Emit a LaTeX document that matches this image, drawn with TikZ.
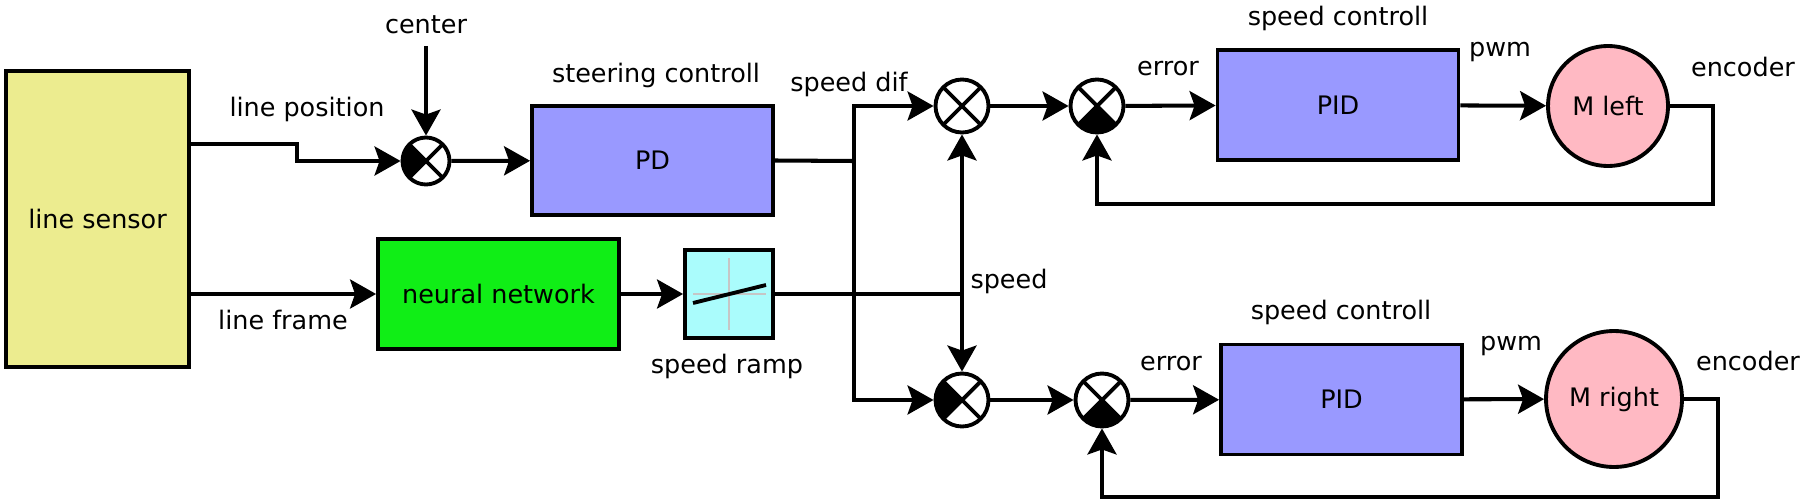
\documentclass[tikz,border=0pt]{standalone}
\usepackage{fontspec}
\setmainfont{DejaVu Sans}
\usepackage{xcolor}
\definecolor{sensorfill}{RGB}{236,236,143}
\definecolor{netfill}{RGB}{16,238,22}
\definecolor{ctrlfill}{RGB}{153,153,255}
\definecolor{rampfill}{RGB}{170,252,252}
\definecolor{motorfill}{RGB}{255,185,195}
\usepackage{tikz}
\usetikzlibrary{positioning,arrows.meta,calc}

\newcommand{\lblfont}{\fontsize{14.5}{17}\selectfont}
\newcommand{\sumcross}{%
  \draw[black,line width=2.2pt] (path picture bounding box.north west) -- (path picture bounding box.south east)
    (path picture bounding box.north east) -- (path picture bounding box.south west);}

\begin{document}
\begin{tikzpicture}[x=0.02cm,y=-0.02cm,
      block/.style={draw,line width=2.2pt,minimum width=4.82cm,minimum height=2.2cm,inner sep=0pt,font=\lblfont},
      motor/.style={circle,draw,line width=2.2pt,fill=motorfill,inner sep=0pt,font=\lblfont},
      sumj/.style={circle,draw,line width=2.2pt,fill=white,minimum size=1.06cm,inner sep=0pt,path picture={\sumcross}},
      sumw/.style={sumj,path picture={\fill[black] (path picture bounding box.center) -- (path picture bounding box.north west)
          -- (path picture bounding box.south west) -- cycle; \sumcross}},
      sums/.style={sumj,path picture={\fill[black] (path picture bounding box.center) -- (path picture bounding box.south west)
          -- (path picture bounding box.south east) -- cycle; \sumcross}},
      lbl/.style={inner sep=0pt,font=\lblfont},
      wire/.style={line width=2.3pt},
      arr/.style={-{Stealth[length=0.52cm,width=0.58cm,inset=0.1cm]},line width=2.3pt}]
    \useasboundingbox (0,0) rectangle (1804,500);
    % sensor and steering part
    \node[block,fill=sensorfill,minimum width=3.66cm,minimum height=5.92cm] (sensor) at (97.5,219) {line sensor};
    \node[block,fill=netfill] (net) at (498.5,294) {neural network};
    \node[sumw,minimum size=0.94cm] (s1) at (426,161) {};
    \node[block,fill=ctrlfill,minimum height=2.18cm] (pd) at (652.5,160.5) {PD};
    \node[block,fill=rampfill,minimum width=1.76cm,minimum height=1.76cm] (ramp) at (729,294) {};
    % ramp icon
    \draw[gray!45,line width=1pt] (693,294) -- (766,294) (729,258) -- (729,330);
    \draw[line width=2.2pt] (693,303) -- (766,285);
    % summing points
    \node[sumj] (s2) at (962,106) {};
    \node[sumw] (s3) at (962,400) {};
    \node[sums] (s4) at (1097,106) {};
    \node[sums] (s5) at (1102,400) {};
    % speed loops
    \node[block,fill=ctrlfill] (pidL) at (1338,105) {PID};
    \node[block,fill=ctrlfill] (pidR) at (1341.5,399.5) {PID};
    \node[motor,minimum size=2.4cm] (mL) at (1608,106) {M left};
    \node[motor,minimum size=2.72cm] (mR) at (1614,399) {M right};
    % bend points
    \coordinate (lp) at (297,144);
    \coordinate (ctop) at (426,46);
    \coordinate (sd) at (854,161);
    \coordinate (fbL) at (1713,204);
    \coordinate (fbR) at (1718,497);
    % connections
    \draw[arr] (sensor.east |- lp) -- (lp) |- (s1.west);
    \draw[arr] (sensor.east |- net.west) -- (net.west);
    \draw[arr] (ctop) -- (s1.north);
    \draw[arr] (s1) -- (pd);
    \draw[arr] (net) -- (ramp);
    \draw[wire] (pd.east) -- (sd);
    \draw[arr] (sd) |- (s2.west);
    \draw[arr] (sd) |- (s3.west);
    \draw[wire] (ramp.east) -- (s2 |- ramp.east);
    \draw[arr] (s2 |- ramp.east) -- (s2.south);
    \draw[arr] (s2 |- ramp.east) -- (s3.north);
    \foreach \a/\b in {s2/s4,s3/s5,s4/pidL,s5/pidR,pidL/mL,pidR/mR} \draw[arr] (\a) -- (\b);
    \draw[arr] (mL.east) -| (fbL) -| (s4.south);
    \draw[arr] (mR.east) -| (fbR) -| (s5.south);
    % labels
    \node[lbl] (tPos) at (307,109) {line position};
    \node[lbl] (tFrame) at (283,320) {line frame};
    \node[lbl] (tCenter) at (426,25) {center};
    \node[lbl] (tSteer) at (656,75) {steering controll};
    \node[lbl] (tRamp) at (727,366) {speed ramp};
    \node[lbl] (tDif) at (849,84) {speed dif};
    \node[lbl] (tSpeed) at (1009,281) {speed};
    \node[lbl] (tErrL) at (1168,69) {error};
    \node[lbl] (tErrR) at (1171,364) {error};
    \node[lbl] (tCtrlL) at (1338,18) {speed controll};
    \node[lbl] (tCtrlR) at (1341,312) {speed controll};
    \node[lbl] (tPwmL) at (1500,52) {pwm};
    \node[lbl] (tPwmR) at (1511,346) {pwm};
    \node[lbl] (tEncL) at (1743,67) {encoder};
    \node[lbl] (tEncR) at (1748,361) {encoder};
  \end{tikzpicture}
\end{document}
